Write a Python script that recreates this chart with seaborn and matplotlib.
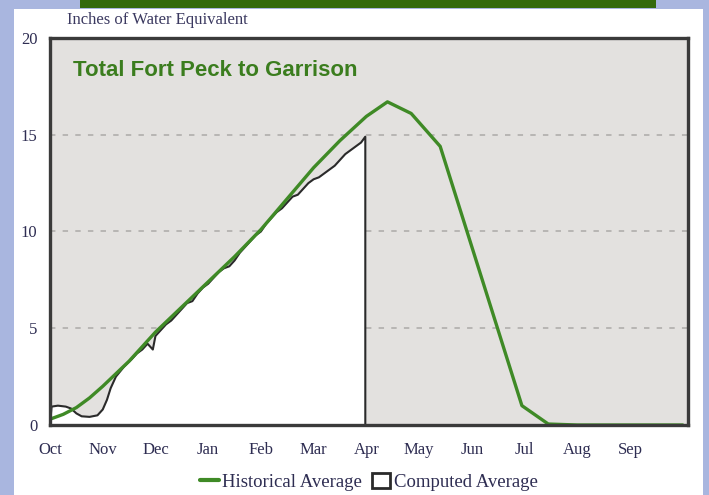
import numpy as np
import pandas as pd
import matplotlib
matplotlib.use("Agg")
import matplotlib.pyplot as plt
from matplotlib.patches import Rectangle, Patch
from matplotlib.lines import Line2D
import seaborn as sns

# ---- data (x in months since Oct 1) ----
months = ["Oct", "Nov", "Dec", "Jan", "Feb", "Mar", "Apr", "May", "Jun", "Jul", "Aug", "Sep"]
yticks = [0, 5, 10, 15, 20]

hist_x = [0.0, 0.25, 0.5, 0.75, 1.0, 1.5, 2.0, 2.5, 3.0, 3.5, 4.0, 4.5, 5.0, 5.5, 6.0,
          6.4, 6.85, 7.4, 8.95, 9.45, 10.0, 11.0, 12.0]
hist_y = [0.3, 0.55, 0.9, 1.4, 2.0, 3.3, 4.8, 6.1, 7.4, 8.7, 10.1, 11.7, 13.3, 14.7, 15.95,
          16.7, 16.1, 14.4, 1.0, 0.05, 0.0, 0.0, 0.0]

comp_x = [0.00, 0.03, 0.15, 0.30, 0.40, 0.50, 0.60, 0.75, 0.90, 1.00, 1.08, 1.15,
          1.25, 1.40, 1.55, 1.65, 1.75, 1.85, 1.95, 2.00, 2.10, 2.20, 2.30, 2.40,
          2.50, 2.60, 2.70, 2.80, 2.90, 3.00, 3.10, 3.20, 3.30, 3.40, 3.50, 3.60,
          3.70, 3.80, 3.90, 4.00, 4.10, 4.20, 4.30, 4.40, 4.50, 4.60, 4.70, 4.80,
          4.90, 5.00, 5.10, 5.20, 5.30, 5.40, 5.50, 5.60, 5.70, 5.80, 5.90, 5.98,
          5.98]
comp_y = [0.0, 0.95, 1.0, 0.95, 0.85, 0.6, 0.45, 0.42, 0.5, 0.8, 1.3, 1.9,
          2.5, 3.0, 3.4, 3.7, 3.9, 4.2, 3.9, 4.6, 4.9, 5.2, 5.4, 5.7,
          6.0, 6.3, 6.4, 6.8, 7.1, 7.3, 7.6, 7.9, 8.1, 8.2, 8.5, 8.9,
          9.2, 9.5, 9.8, 10.0, 10.4, 10.7, 11.0, 11.2, 11.5, 11.8, 11.9, 12.2,
          12.5, 12.7, 12.8, 13.0, 13.2, 13.4, 13.7, 14.0, 14.2, 14.4, 14.6, 14.9,
          0.0]

hist_df = pd.DataFrame({"x": hist_x, "y": hist_y})
comp_df = pd.DataFrame({"x": comp_x, "y": comp_y})

sns.set_style("white")
plt.rcParams["font.family"] = ["Liberation Serif", "DejaVu Serif"]

W, H = 709, 495
fig = plt.figure(figsize=(W / 100, H / 100), dpi=100)
fig.patch.set_facecolor("#a9b6df")

# white panel and green header bar
fig.patches.append(Rectangle((14 / W, 0), (703 - 14) / W, 1 - 9 / H,
                             transform=fig.transFigure, facecolor="white",
                             edgecolor="none", zorder=-2))
fig.patches.append(Rectangle((80 / W, 1 - 8 / H), (656 - 80) / W, 8 / H,
                             transform=fig.transFigure, facecolor="#336a0c",
                             edgecolor="none", zorder=-2))

ax = fig.add_axes([50 / W, 1 - 425 / H, (688 - 50) / W, (425 - 38) / H])
ax.set_zorder(2)
ax.set_facecolor("#e3e1df")

# computed average area (white fill with dark outline)
ax.fill_between(comp_x, comp_y, 0, color="white", zorder=2, linewidth=0)
sns.lineplot(data=comp_df, x="x", y="y", ax=ax, color="#2a2a2a", linewidth=1.5,
             estimator=None, sort=False, zorder=3)
sns.lineplot(data=hist_df, x="x", y="y", ax=ax, color="#3f8a26", linewidth=2.4,
             estimator=None, sort=False, zorder=4)

for yv in [5, 10, 15]:
    ax.axhline(yv, color="#b4b2b0", linestyle=(0, (3, 4)), linewidth=1.3, zorder=1)

ax.set_xlim(0, 12.1)
ax.set_ylim(0, 20)
ax.set_xticks(range(12))
ax.set_xticklabels(months)
ax.set_yticks(yticks)
ax.set_yticklabels([str(v) for v in yticks])
ax.set_xlabel("")
ax.set_ylabel("")
ax.tick_params(axis="both", length=0, labelsize=12, colors="#2e2d52")
ax.tick_params(axis="x", pad=12)
ax.tick_params(axis="y", pad=9)
for s in ax.spines.values():
    s.set_visible(True)
    s.set_color("#3a3a3a")
    s.set_linewidth(2.4)
    s.set_zorder(5)

fig.text(67 / W, 1 - 20 / H, "Inches of Water Equivalent", fontsize=12,
         color="#3b3960", ha="left", va="center")
fig.text(73 / W, 1 - 71 / H, "Total Fort Peck to Garrison", fontsize=16,
         fontweight="bold", color="#3b7d1e", ha="left", va="center",
         family=["Liberation Sans", "DejaVu Sans"], zorder=10)

handles = [Line2D([0], [0], color="#3f8a26", linewidth=3),
           Patch(facecolor="white", edgecolor="#2a2a2a", linewidth=2)]
leg = fig.legend(handles, ["Historical Average", "Computed Average"],
                 loc="center", bbox_to_anchor=(369 / W, 1 - 482 / H), ncol=2,
                 frameon=False, fontsize=13.5, handlelength=1.0, handletextpad=0.2,
                 columnspacing=0.5, handleheight=0.8)
for t in leg.get_texts():
    t.set_color("#2e2d52")

fig.savefig("out.png", dpi=100, facecolor=fig.get_facecolor())
